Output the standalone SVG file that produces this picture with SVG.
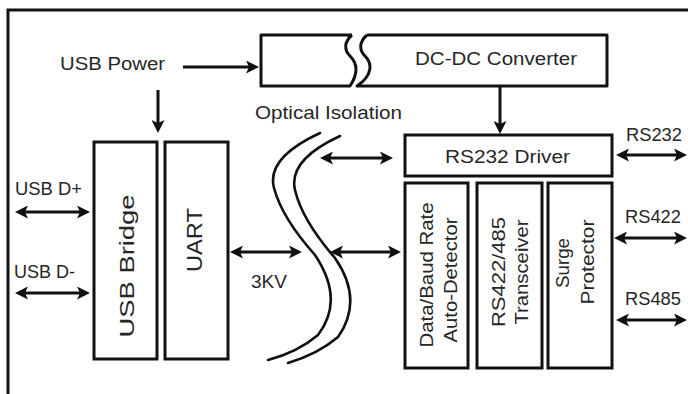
<svg xmlns="http://www.w3.org/2000/svg" width="688" height="394" viewBox="0 0 688 394">
<style>
.box{fill:#fff;stroke:#111;stroke-width:3}
.brk{fill:none;stroke:#111;stroke-width:3;stroke-linejoin:round}
.iso{fill:none;stroke:#111;stroke-width:2.6;stroke-linecap:round}
.con{stroke:#111;stroke-width:3;fill:none}
.t{font-family:"Liberation Sans",Arial,sans-serif;fill:#262626;font-size:18px}
.v{font-family:"Liberation Sans",Arial,sans-serif;fill:#262626;font-size:19px;text-anchor:middle}
</style>
<defs>
<marker id="ah" viewBox="0 0 13 13" refX="5" refY="6.5" markerWidth="13" markerHeight="13" markerUnits="userSpaceOnUse" orient="auto-start-reverse">
<path d="M0,0 L13,6.5 L0,13 L3,6.5 z" fill="#111"/>
</marker>
</defs>
<rect x="0" y="0" width="688" height="394" fill="#fff"/>
<rect id="frame" x="8" y="10" width="700" height="400" fill="none" stroke="#111" stroke-width="3"/>

<g id="dcdc">
<path class="brk" d="M352,35 L261,35 L261,86 L350,86 C358,74 358,64 350,56 C344,50 344,42 352,35"/>
<path class="brk" d="M367,35 L607,35 L607,86 L357,86 C372,76 373,64 365,56 C359,50 359,42 367,35"/>
<text class="t" x="415" y="65" textLength="162" lengthAdjust="spacingAndGlyphs">DC-DC Converter</text>
</g>

<g id="usbpower"><text class="t" x="60" y="70" textLength="105" lengthAdjust="spacingAndGlyphs">USB Power</text></g>
<g id="optical">
<text class="t" x="255" y="119" textLength="147" lengthAdjust="spacingAndGlyphs">Optical Isolation</text>
<path class="iso" d="M320,133 Q266,158 274,188 Q282,218 315,255 Q345,300 318,335 Q298,352 268,360"/>
<path class="iso" d="M340,136 Q288,160 295,190 Q302,220 335,258 Q364,300 338,337 Q318,354 288,363"/>
<text class="t" x="251" y="288" textLength="36" lengthAdjust="spacingAndGlyphs">3KV</text>
</g>

<g id="usbbridge">
<rect class="box" x="94" y="142" width="63" height="217"/>
<text class="v" style="font-size:20px" transform="translate(134,266) rotate(-90)" textLength="143" lengthAdjust="spacingAndGlyphs">USB Bridge</text>
</g>
<g id="uart">
<rect class="box" x="165" y="142" width="63" height="217"/>
<text class="v" style="font-size:22px" transform="translate(202,240) rotate(-90)" textLength="64" lengthAdjust="spacingAndGlyphs">UART</text>
</g>

<g id="rs232driver">
<rect class="box" x="405" y="135" width="207" height="41"/>
<text class="t" x="445" y="163" textLength="125" lengthAdjust="spacingAndGlyphs">RS232 Driver</text>
</g>
<g id="detector">
<rect class="box" x="405" y="183" width="63" height="185"/>
<text class="v" transform="translate(433,275) rotate(-90)" textLength="145" lengthAdjust="spacingAndGlyphs">Data/Baud Rate</text>
<text class="v" transform="translate(457,280) rotate(-90)" textLength="125" lengthAdjust="spacingAndGlyphs">Auto-Detector</text>
</g>
<g id="transceiver">
<rect class="box" x="477" y="183" width="65" height="185"/>
<text class="v" transform="translate(505,272) rotate(-90)" textLength="110" lengthAdjust="spacingAndGlyphs">RS422/485</text>
<text class="v" transform="translate(528,272) rotate(-90)" textLength="105" lengthAdjust="spacingAndGlyphs">Transceiver</text>
</g>
<g id="surge">
<rect class="box" x="548" y="183" width="64" height="185"/>
<text class="v" transform="translate(569,263) rotate(-90)" textLength="50" lengthAdjust="spacingAndGlyphs">Surge</text>
<text class="v" transform="translate(594,262) rotate(-90)" textLength="85" lengthAdjust="spacingAndGlyphs">Protector</text>
</g>

<g id="labels">
<text class="t" x="15" y="195" textLength="67" lengthAdjust="spacingAndGlyphs">USB D+</text>
<text class="t" x="14" y="278" textLength="61" lengthAdjust="spacingAndGlyphs">USB D-</text>
<text class="t" x="626" y="141" textLength="56" lengthAdjust="spacingAndGlyphs">RS232</text>
<text class="t" x="625" y="223" textLength="56" lengthAdjust="spacingAndGlyphs">RS422</text>
<text class="t" x="625" y="305" textLength="56" lengthAdjust="spacingAndGlyphs">RS485</text>
</g>

<g id="connectors">
<line class="con" x1="183" y1="67" x2="251" y2="67" marker-end="url(#ah)"/>
<line class="con" x1="158" y1="90" x2="158" y2="125" marker-end="url(#ah)"/>
<line class="con" x1="500" y1="86" x2="500" y2="126" marker-end="url(#ah)"/>
<line class="con" x1="23" y1="212" x2="82" y2="212" marker-start="url(#ah)" marker-end="url(#ah)"/>
<line class="con" x1="23" y1="293" x2="82" y2="293" marker-start="url(#ah)" marker-end="url(#ah)"/>
<line class="con" x1="238" y1="252" x2="294" y2="252" marker-start="url(#ah)" marker-end="url(#ah)"/>
<line class="con" x1="338" y1="252" x2="393" y2="252" marker-start="url(#ah)" marker-end="url(#ah)"/>
<line class="con" x1="328" y1="158" x2="385" y2="158" marker-start="url(#ah)" marker-end="url(#ah)"/>
<line class="con" x1="624" y1="155" x2="679" y2="155" marker-start="url(#ah)" marker-end="url(#ah)"/>
<line class="con" x1="622" y1="238" x2="679" y2="238" marker-start="url(#ah)" marker-end="url(#ah)"/>
<line class="con" x1="624" y1="320" x2="679" y2="320" marker-start="url(#ah)" marker-end="url(#ah)"/>
</g>
</svg>
